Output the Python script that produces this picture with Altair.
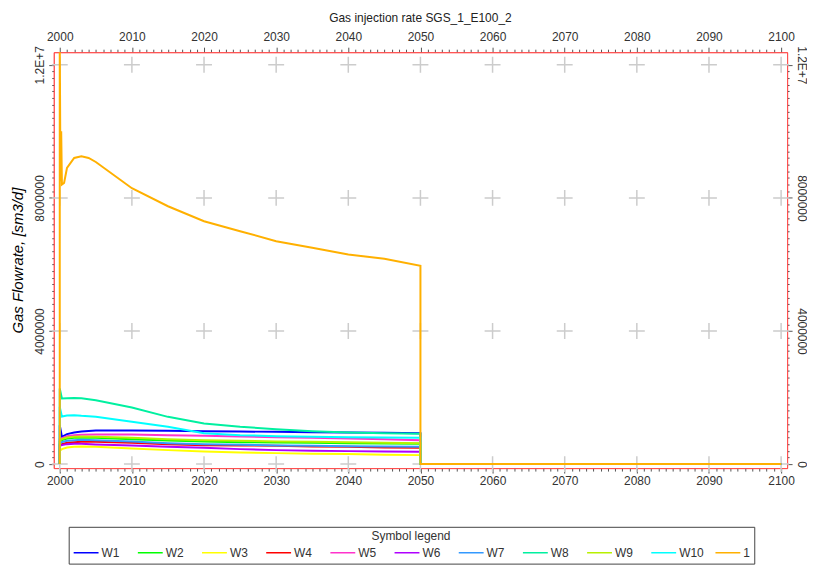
import altair as alt
import pandas as pd

TITLE = "Gas injection rate SGS_1_E100_2"
Y_TITLE = "Gas Flowrate, [sm3/d]"
LEGEND_TITLE = "Symbol legend"
SERIES = ["W1", "W2", "W3", "W4", "W5", "W6", "W7", "W8", "W9", "W10", "1"]
COLORS = ["#0000ff", "#00ff00", "#ffff00", "#ff0000", "#ff33cc", "#b000ff",
          "#3399ff", "#00f0a0", "#b8f000", "#00ffff", "#ffb000"]

# time (years) for the wells
T_WELL = [2000, 2000, 2000.3, 2001, 2002, 2003, 2005, 2010, 2015, 2020, 2025,
          2030, 2035, 2040, 2045, 2050, 2050, 2100]
# well rates in million sm3/d
W1 = [0, 1.17, 0.82, 0.90, 0.95, 0.98, 1.01, 1.01, 1.00, 0.99, 0.98, 0.97, 0.96, 0.95, 0.94, 0.93, 0, 0]
W2 = [0, 0.68, 0.72, 0.77, 0.79, 0.80, 0.79, 0.75, 0.71, 0.68, 0.66, 0.65, 0.64, 0.63, 0.62, 0.61, 0, 0]
W3 = [0, 0.40, 0.45, 0.50, 0.52, 0.53, 0.52, 0.47, 0.42, 0.38, 0.35, 0.33, 0.31, 0.30, 0.28, 0.27, 0, 0]
W4 = [0, 0.58, 0.60, 0.64, 0.66, 0.67, 0.67, 0.64, 0.60, 0.57, 0.56, 0.55, 0.53, 0.52, 0.50, 0.49, 0, 0]
W5 = [0, 0.75, 0.78, 0.84, 0.87, 0.88, 0.89, 0.89, 0.87, 0.85, 0.83, 0.81, 0.79, 0.77, 0.75, 0.72, 0, 0]
W6 = [0, 0.55, 0.57, 0.60, 0.61, 0.61, 0.59, 0.56, 0.52, 0.49, 0.45, 0.42, 0.40, 0.39, 0.38, 0.37, 0, 0]
W7 = [0, 0.62, 0.66, 0.70, 0.72, 0.73, 0.72, 0.68, 0.63, 0.60, 0.58, 0.56, 0.55, 0.54, 0.53, 0.52, 0, 0]
W8 = [0, 2.27, 1.97, 1.98, 1.99, 1.98, 1.92, 1.70, 1.42, 1.22, 1.12, 1.05, 0.99, 0.95, 0.93, 0.91, 0, 0]
W9 = [0, 0.70, 0.75, 0.80, 0.82, 0.83, 0.82, 0.79, 0.75, 0.72, 0.70, 0.68, 0.67, 0.66, 0.64, 0.63, 0, 0]
W10 = [0, 1.72, 1.43, 1.46, 1.47, 1.45, 1.42, 1.27, 1.12, 0.93, 0.87, 0.84, 0.82, 0.81, 0.80, 0.79, 0, 0]

# field total
T_TOTAL = [2000, 2000, 2000.1, 2000.2, 2000.3, 2000.6, 2001, 2002, 2003, 2004, 2005, 2010,
           2015, 2020, 2025, 2030, 2035, 2040, 2045, 2050, 2050, 2100]
TOTAL = [0, 12.8, 8.5, 10.0, 8.4, 8.45, 8.9, 9.2, 9.25, 9.2, 9.08, 8.29,
         7.75, 7.30, 7.00, 6.70, 6.50, 6.30, 6.17, 5.96, 0, 0]

X_MAJOR = list(range(2000, 2101, 10))
X_ALL = list(range(2000, 2101, 1))
Y_MAJOR = [0, 4000000, 8000000, 12000000]
Y_ALL = list(range(0, 12000001, 200000))
X_DOMAIN = [1999.17, 2100.83]
Y_DOMAIN = [-120000, 12380000]

FONT = "Liberation Sans"
FRAME = "#ff5050"

rows = []
for name, vals in zip(SERIES[:10], [W1, W2, W3, W4, W5, W6, W7, W8, W9, W10]):
    for i, (t, v) in enumerate(zip(T_WELL, vals)):
        rows.append({"series": name, "t": t, "v": v * 1e6, "idx": i})
wells_df = pd.DataFrame(rows)
total_df = pd.DataFrame({"series": "1", "t": T_TOTAL,
                         "v": [v * 1e6 for v in TOTAL], "idx": range(len(T_TOTAL))})
cross_df = pd.DataFrame([{"t": x, "v": y} for x in X_MAJOR for y in Y_MAJOR])

xs = alt.Scale(domain=X_DOMAIN, nice=False, zero=False)
ys = alt.Scale(domain=Y_DOMAIN, nice=False, zero=False)
cs = alt.Scale(domain=SERIES, range=COLORS)

common_axis = dict(grid=False, domainColor=FRAME, tickColor="#555555", labelColor="#333333",
                   labelFont=FONT, labelFontSize=12, labelOverlap=False, labelFlush=False,
                   labelBound=False)

x_tick = {"condition": {"test": "datum.value % 10 == 0", "value": 5}, "value": 3}
y_tick = {"condition": {"test": "datum.value % 4000000 == 0", "value": 5}, "value": 2}
x_lab = "datum.value % 10 == 0 ? datum.value : ''"
y_lab = "datum.value == 12000000 ? '1.2E+7' : (datum.value % 4000000 == 0 ? datum.value : '')"

legend = alt.Legend(title=LEGEND_TITLE, orient="none", legendX=15, legendY=477,
                    direction="horizontal", columns=11, symbolType="stroke", symbolSize=625,
                    symbolStrokeWidth=1.5, labelFontSize=12, labelFont=FONT, labelColor="#333333",
                    titleAnchor="middle", titleFontWeight="normal", titleFontSize=12,
                    titleFont=FONT, titleColor="#333333", strokeColor="#444444", padding=4,
                    titlePadding=3, columnPadding=10.5, gridAlign="all", labelOffset=2,
                    clipHeight=14)

crosses = alt.Chart(cross_df).mark_point(
    shape="M-1,0L1,0M0,-1L0,1", size=256, filled=False, color="#cccccc",
    strokeWidth=1.5, opacity=1
).encode(
    x=alt.X("t:Q", scale=xs, axis=alt.Axis(orient="top", values=X_ALL, labelExpr=x_lab,
                                           tickSize=x_tick, title=None, labelPadding=4,
                                           **common_axis)),
    y=alt.Y("v:Q", scale=ys, axis=alt.Axis(orient="right", values=Y_ALL, labelExpr=y_lab,
                                           tickSize=y_tick, title=None, labelAngle=90,
                                           labelAlign="center", labelBaseline="bottom",
                                           labelPadding=2, **common_axis)),
)

wells = alt.Chart(wells_df).mark_line(clip=True, strokeWidth=2).encode(
    x=alt.X("t:Q", scale=xs, axis=alt.Axis(orient="bottom", values=X_ALL, labelExpr=x_lab,
                                           tickSize=x_tick, title=None, labelPadding=2,
                                           **common_axis)),
    y=alt.Y("v:Q", scale=ys, axis=alt.Axis(orient="left", values=Y_ALL, labelExpr=y_lab,
                                           tickSize=y_tick, title=Y_TITLE, labelAngle=270,
                                           labelAlign="center", labelBaseline="bottom",
                                           labelPadding=2, titleFont=FONT, titleFontSize=15,
                                           titleFontStyle="italic", titleFontWeight="normal",
                                           titleColor="#000000", titlePadding=8,
                                           **common_axis)),
    color=alt.Color("series:N", scale=cs, legend=legend),
    order=alt.Order("idx:Q"),
)

total = alt.Chart(total_df).mark_line(clip=True, strokeWidth=2).encode(
    x=alt.X("t:Q", scale=xs, axis=None),
    y=alt.Y("v:Q", scale=ys, axis=None),
    color=alt.Color("series:N", scale=cs, legend=legend),
    order=alt.Order("idx:Q"),
)

chart = alt.layer(crosses, wells, total).resolve_axis(
    x="independent", y="independent"
).properties(
    width=737, height=418,
    title=alt.TitleParams(TITLE, font=FONT, fontSize=12, fontWeight="normal",
                          color="#222222", anchor="middle", offset=5),
    padding={"left": 3, "top": 3, "right": 0, "bottom": 0},
).configure_view(stroke=FRAME, strokeWidth=1)

chart.save("out.html", embed_options={"renderer": "svg", "actions": False})
